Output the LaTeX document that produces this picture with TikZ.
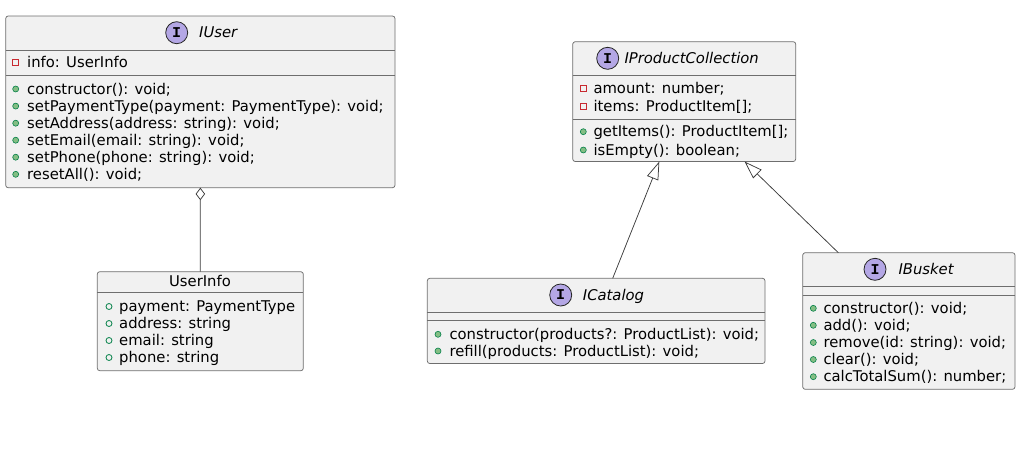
\documentclass[tikz,border=0pt]{standalone}
\usepackage{fontspec}
\setmainfont{DejaVu Sans}
\newfontfamily\iconfont{Liberation Mono}
\usetikzlibrary{arrows.meta}
\definecolor{boxfill}{HTML}{F1F1F1}
\definecolor{boxline}{HTML}{6E6E6E}
\definecolor{conline}{HTML}{3C3C3C}
\definecolor{ifill}{HTML}{B4A7E5}
\definecolor{privred}{HTML}{C82930}
\definecolor{pubgreen}{HTML}{038048}
\definecolor{pubfill}{HTML}{84BE84}
\tikzset{
  umlbox/.style={draw=boxline, fill=boxfill, line width=0.75pt, rounded corners=2.5pt, anchor=north west, inner sep=0pt, outer sep=0pt},
  sepline/.style={draw=boxline, line width=0.75pt},
  rowtext/.style={anchor=base west, inner sep=0pt, font=\fontsize{14.8}{17}\selectfont},
  titletext/.style={anchor=base west, inner sep=0pt, font=\fontsize{14.8}{17}\selectfont\itshape},
  ibadge/.style={circle, draw=black!85, fill=ifill, line width=0.8pt, minimum size=22pt, inner sep=0pt, font=\fontsize{15}{15}\selectfont\iconfont\bfseries},
  privicon/.style={rectangle, draw=privred, line width=0.8pt, minimum size=6pt, inner sep=0pt},
  pubmeth/.style={circle, draw=pubgreen, fill=pubfill, line width=0.6pt, minimum size=6pt, inner sep=0pt},
  pubfield/.style={circle, draw=pubgreen, line width=0.8pt, minimum size=6pt, inner sep=0pt},
  conn/.style={draw=conline, line width=0.75pt},
}
\newcommand{\umlrow}[5]{% icon style, icon x, text x, y, text
  \node[#1] at (#2,#4) {};
  \node[rowtext] at (#3,#4+5) {#5};
}
\begin{document}
\begin{tikzpicture}[x=1pt,y=-1pt]
\useasboundingbox (0,0) rectangle (1022,453);

% ---------- IUser ----------
\node[umlbox, minimum width=389.3pt, minimum height=171.7pt] (iuser) at (5.7,16) {};
\draw[sepline] (iuser.west |- 0,50) -- (iuser.east |- 0,50);
\draw[sepline] (iuser.west |- 0,75.7) -- (iuser.east |- 0,75.7);
\node[ibadge] (iuserbadge) at (176.7,32.7) {I};
\node[titletext] (iusertitle) at (199,37.7) {IUser};
\umlrow{privicon}{15.7}{27}{62.7}{info: UserInfo}
\umlrow{pubmeth}{15.7}{27}{89}{constructor(): void;}
\umlrow{pubmeth}{15.7}{27}{106.1}{setPaymentType(payment: PaymentType): void;}
\umlrow{pubmeth}{15.7}{27}{123.2}{setAddress(address: string): void;}
\umlrow{pubmeth}{15.7}{27}{140.2}{setEmail(email: string): void;}
\umlrow{pubmeth}{15.7}{27}{157.2}{setPhone(phone: string): void;}
\umlrow{pubmeth}{15.7}{27}{174.3}{resetAll(): void;}

% ---------- UserInfo ----------
\node[umlbox, minimum width=206pt, minimum height=99pt] (userinfo) at (97.3,271.7) {};
\draw[sepline] (userinfo.west |- 0,292.7) -- (userinfo.east |- 0,292.7);
\node[anchor=base, inner sep=0pt, font=\fontsize{14.8}{17}\selectfont] (userinfotitle) at (200,286.7) {UserInfo};
\umlrow{pubfield}{109}{119}{306.5}{payment: PaymentType}
\umlrow{pubfield}{109}{119}{323.5}{address: string}
\umlrow{pubfield}{109}{119}{340.5}{email: string}
\umlrow{pubfield}{109}{119}{357.5}{phone: string}

% ---------- IProductCollection ----------
\node[umlbox, minimum width=223pt, minimum height=119.8pt] (ipc) at (572.7,41.7) {};
\draw[sepline] (ipc.west |- 0,75.7) -- (ipc.east |- 0,75.7);
\draw[sepline] (ipc.west |- 0,119.3) -- (ipc.east |- 0,119.3);
\node[ibadge] (ipcbadge) at (607.7,58.3) {I};
\node[titletext] (ipctitle) at (624.3,63.3) {IProductCollection};
\umlrow{privicon}{583.3}{593.3}{88.3}{amount: number;}
\umlrow{privicon}{583.3}{593.3}{106.7}{items: ProductItem[];}
\umlrow{pubmeth}{583.3}{593.3}{131.7}{getItems(): ProductItem[];}
\umlrow{pubmeth}{583.3}{593.3}{150}{isEmpty(): boolean;}

% ---------- ICatalog ----------
\node[umlbox, minimum width=337.7pt, minimum height=85.2pt] (icatalog) at (427.3,278.3) {};
\draw[sepline] (icatalog.west |- 0,312.3) -- (icatalog.east |- 0,312.3);
\draw[sepline] (icatalog.west |- 0,320.7) -- (icatalog.east |- 0,320.7);
\node[ibadge] (icatbadge) at (560.7,295) {I};
\node[titletext] (icattitle) at (582.7,300) {ICatalog};
\umlrow{pubmeth}{438}{449.3}{334.3}{constructor(products?: ProductList): void;}
\umlrow{pubmeth}{438}{449.3}{351}{refill(products: ProductList): void;}

% ---------- IBusket ----------
\node[umlbox, minimum width=212.3pt, minimum height=136.6pt] (ibusket) at (802.7,252.7) {};
\draw[sepline] (ibusket.west |- 0,286) -- (ibusket.east |- 0,286);
\draw[sepline] (ibusket.west |- 0,295) -- (ibusket.east |- 0,295);
\node[ibadge] (ibusbadge) at (875,269.3) {I};
\node[titletext] (ibustitle) at (898.3,274.3) {IBusket};
\umlrow{pubmeth}{813.3}{823.3}{308.3}{constructor(): void;}
\umlrow{pubmeth}{813.3}{823.3}{325.3}{add(): void;}
\umlrow{pubmeth}{813.3}{823.3}{342.5}{remove(id: string): void;}
\umlrow{pubmeth}{813.3}{823.3}{359.5}{clear(): void;}
\umlrow{pubmeth}{813.3}{823.3}{376.7}{calcTotalSum(): number;}

% ---------- connectors ----------
\coordinate (catTop) at (612.7,278.3);
\coordinate (catTip) at (659.3,161.5);
\coordinate (busTop) at (838.3,252.7);
\coordinate (busTip) at (744.5,161.5);
\draw[conn, -{Diamond[open, length=12.5pt, width=9.5pt, line width=0.75pt]}] (userinfo.north) -- (iuser.south);
\draw[conn, -{Triangle[open, length=18pt, width=12pt, line width=0.75pt]}] (catTop) -- (catTip);
\draw[conn, -{Triangle[open, length=18pt, width=12pt, line width=0.75pt]}] (busTop) -- (busTip);
\end{tikzpicture}
\end{document}
